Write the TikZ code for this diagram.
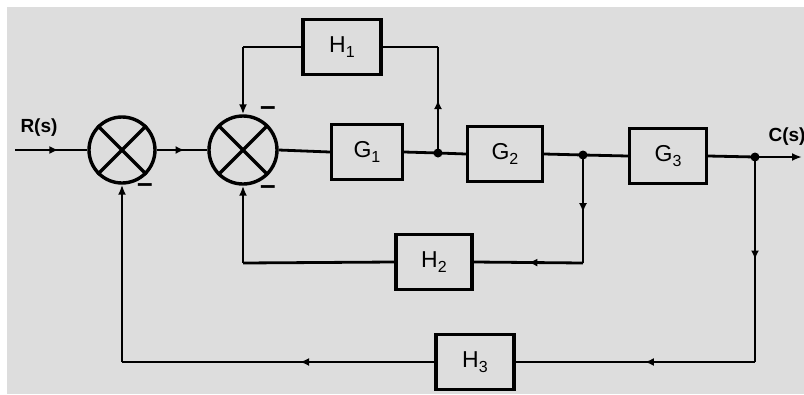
\documentclass[tikz,border=0pt]{standalone}
\usepackage{fontspec}
\setmainfont{Liberation Sans}
\usetikzlibrary{arrows.meta,decorations.markings}
\definecolor{paper}{RGB}{221,221,221}
\tikzset{
  wire/.style={line width=2.8pt, draw=black},
  blockbox/.style={draw=black, line width=3.4pt, fill=paper, minimum width=#1, minimum height=55pt, inner sep=0pt, font=\fontsize{23}{24}\selectfont},
  sumnode/.style={circle, draw=black, line width=3.4pt, minimum size=#1, inner sep=0pt},
  dotnode/.style={circle, fill=black, minimum size=9pt, inner sep=0pt},
  tip/.style={-{Latex[length=10pt,width=8pt]}},
  marrow/.style={postaction={decorate}, decoration={markings, mark=at position #1 with {\arrow{Latex[length=9pt,width=8pt]}}}},
  sign/.style={font=\fontsize{28}{28}\selectfont\bfseries, inner sep=0pt},
  sigtext/.style={font=\fontsize{19}{20}\selectfont\bfseries, inner sep=0pt}
}
\newcommand{\sbs}[2]{#1\raisebox{-0.4ex}{\fontsize{16}{16}\selectfont #2}}
\begin{document}
\begin{tikzpicture}[x=1pt,y=-1pt]
\useasboundingbox (0,0) rectangle (804,394);
\fill[white] (0,0) rectangle (804,394);
\fill[paper] (7,7) rectangle (804,394);

% summing junctions
\node[sumnode=66pt] (s1) at (122,150) {};
\node[sumnode=68pt] (s2) at (243,150) {};
\foreach \s in {s1,s2}{
  \draw[line width=3.4pt] (\s.north west) -- (\s.south east);
  \draw[line width=3.4pt] (\s.north east) -- (\s.south west);
}

% blocks
\node[blockbox=71pt] (G1) at (367,152) {\sbs{G}{1}};
\node[blockbox=75pt] (G2) at (505,154) {\sbs{G}{2}};
\node[blockbox=77pt] (G3) at (668,156) {\sbs{G}{3}};
\node[blockbox=78pt] (H1) at (342,47) {\sbs{H}{1}};
\node[blockbox=76pt] (H2) at (434,262) {\sbs{H}{2}};
\node[blockbox=78pt] (H3) at (475,362) {\sbs{H}{3}};

% junction points
\node[dotnode] (j1) at (438,153) {};
\node[dotnode] (j2) at (583,155) {};
\node[dotnode] (j3) at (755,157) {};

% corners and free ends
\coordinate (in) at (15,150);
\coordinate (out) at (802,157);
\coordinate (h1r) at (438,47);
\coordinate (h1l) at (243,47);
\coordinate (h2r) at (583,263);
\coordinate (h2l) at (243,263);
\coordinate (h3r) at (755,362);
\coordinate (h3l) at (122,362);

% labels
\node[sigtext] (R) at (39,128) {R(s)};
\node[sigtext] (C) at (787,137) {C(s)};
\node[sign] (m1) at (145,188) {–};
\node[sign] (m2) at (268,190) {–};
\node[sign] (m3) at (268,111) {–};

% forward path
\draw[wire, marrow=0.6] (in) -- (s1.west);
\draw[wire, marrow=0.55] (s1.east) -- (s2.west);
\draw[wire] (s2.east) -- (G1.west);
\draw[wire] (G1.east) -- (j1.center) -- (G2.west);
\draw[wire] (G2.east) -- (j2.center) -- (G3.west);
\draw[wire] (G3.east) -- (j3.center);
\draw[wire, tip] (j3.center) -- (out);

% H1 loop
\draw[wire, marrow=0.5] (j1.center) -- (h1r);
\draw[wire] (h1r) -- (H1.east);
\draw[wire] (H1.west) -- (h1l);
\draw[wire, tip] (h1l) -- (s2.north);

% H2 loop
\draw[wire, marrow=0.53] (j2.center) -- (h2r);
\draw[wire, marrow=0.5] (h2r) -- (H2.east);
\draw[wire] (H2.west) -- (h2l);
\draw[wire, tip] (h2l) -- (s2.south);

% H3 loop
\draw[wire, marrow=0.5] (j3.center) -- (h3r);
\draw[wire, marrow=0.46] (h3r) -- (H3.east);
\draw[wire, marrow=0.43] (H3.west) -- (h3l);
\draw[wire, tip] (h3l) -- (s1.south);
\end{tikzpicture}
\end{document}
